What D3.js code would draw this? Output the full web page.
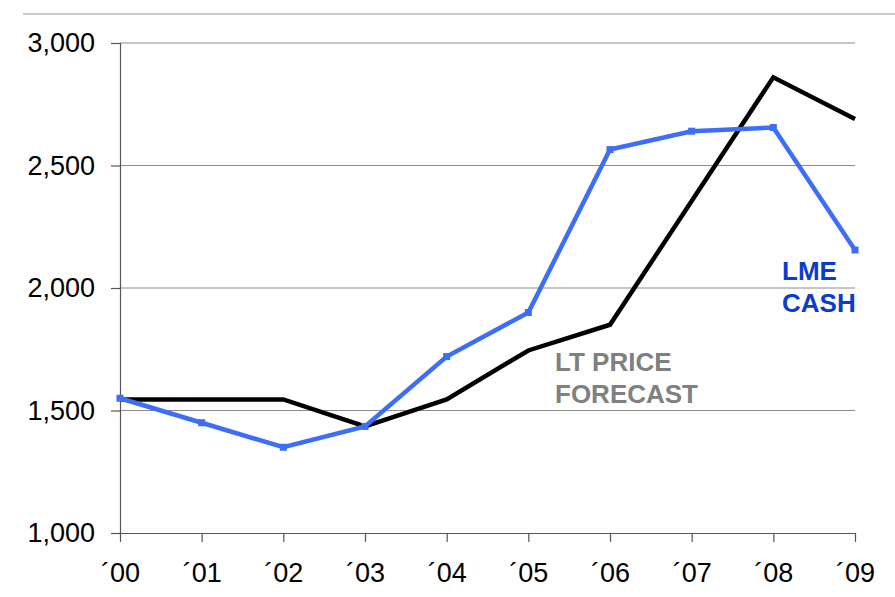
<!DOCTYPE html>
<html>
<head>
<meta charset="utf-8">
<script src="https://cdn.jsdelivr.net/npm/d3@7"></script>
<style>
  html, body { margin: 0; padding: 0; background: #fff; }
  svg { display: block; font-family: "Liberation Sans", Arial, sans-serif; }
</style>
</head>
<body>
<svg id="chart" width="895" height="597"></svg>
<script>
// Years on the x axis
const years = ["´00", "´01", "´02", "´03", "´04", "´05", "´06", "´07", "´08", "´09"];
// Long-term price forecast (USD/t)
const ltForecast = [1545, 1545, 1545, 1435, 1545, 1745, 1850, 2355, 2860, 2690];
// LME cash price (USD/t)
const lmeCash = [1550, 1450, 1350, 1435, 1720, 1900, 2565, 2640, 2655, 2155];
// Value axis ticks
const yTicks = [1000, 1500, 2000, 2500, 3000];

const svg = d3.select("#chart");
const plotLeft = 120, plotRight = 855, plotTop = 43, plotBottom = 533;

const x = d3.scalePoint().domain(years).range([plotLeft, plotRight]);
const y = d3.scaleLinear().domain([1000, 3000]).range([plotBottom, plotTop]);

// thin rule across the top
svg.append("line")
  .attr("x1", 23).attr("x2", 895).attr("y1", 14).attr("y2", 14)
  .attr("stroke", "#c8c8c8").attr("stroke-width", 2);

// horizontal gridlines
svg.append("g").selectAll("line").data(yTicks.filter(d => d > 1000)).join("line")
  .attr("x1", plotLeft).attr("x2", plotRight)
  .attr("y1", d => y(d)).attr("y2", d => y(d))
  .attr("stroke", "#8c8c8c").attr("stroke-width", 1);

// y axis
const yAxis = svg.append("g")
  .attr("transform", `translate(${plotLeft},0)`)
  .call(d3.axisLeft(y).tickValues(yTicks).tickSize(9).tickPadding(16).tickFormat(d3.format(",")));
yAxis.select(".domain").attr("stroke", "#555").attr("stroke-width", 1.2);
yAxis.selectAll(".tick line").attr("stroke", "#555").attr("stroke-width", 1.2);
yAxis.selectAll("text").attr("font-size", 27).attr("fill", "#000")
  .attr("font-family", "Liberation Sans, Arial, sans-serif");

// x axis
const xAxis = svg.append("g")
  .attr("transform", `translate(0,${plotBottom})`)
  .call(d3.axisBottom(x).tickSize(9).tickPadding(21).tickSizeOuter(0));
xAxis.select(".domain").attr("stroke", "#555").attr("stroke-width", 1.2);
xAxis.selectAll(".tick line").attr("stroke", "#555").attr("stroke-width", 1.2);
xAxis.selectAll("text").attr("font-size", 27).attr("fill", "#000")
  .attr("font-family", "Liberation Sans, Arial, sans-serif");

const line = d3.line().x((d, i) => x(years[i])).y(d => y(d));

// LT price forecast line
svg.append("path").datum(ltForecast)
  .attr("d", line).attr("fill", "none")
  .attr("stroke", "#000").attr("stroke-width", 4.5).attr("stroke-linejoin", "miter");

// LME cash line with small square markers
const blue = "#3d6ef7";
svg.append("path").datum(lmeCash)
  .attr("d", line).attr("fill", "none")
  .attr("stroke", blue).attr("stroke-width", 4.5).attr("stroke-linejoin", "miter");
svg.append("g").selectAll("rect").data(lmeCash).join("rect")
  .attr("x", (d, i) => x(years[i]) - 3.5).attr("y", d => y(d) - 3.5)
  .attr("width", 7).attr("height", 7).attr("fill", blue);

// series labels
const lbl = (lines, xPos, yPos, color) => {
  const t = svg.append("text").attr("font-size", 26).attr("font-weight", "bold").attr("fill", color);
  lines.forEach((s, i) => t.append("tspan").attr("x", xPos).attr("y", yPos + i * 32).text(s));
};
lbl(["LME", "CASH"], 782, 280, "#0a3ccf");
lbl(["LT PRICE", "FORECAST"], 555, 371, "#808080");
</script>
</body>
</html>
